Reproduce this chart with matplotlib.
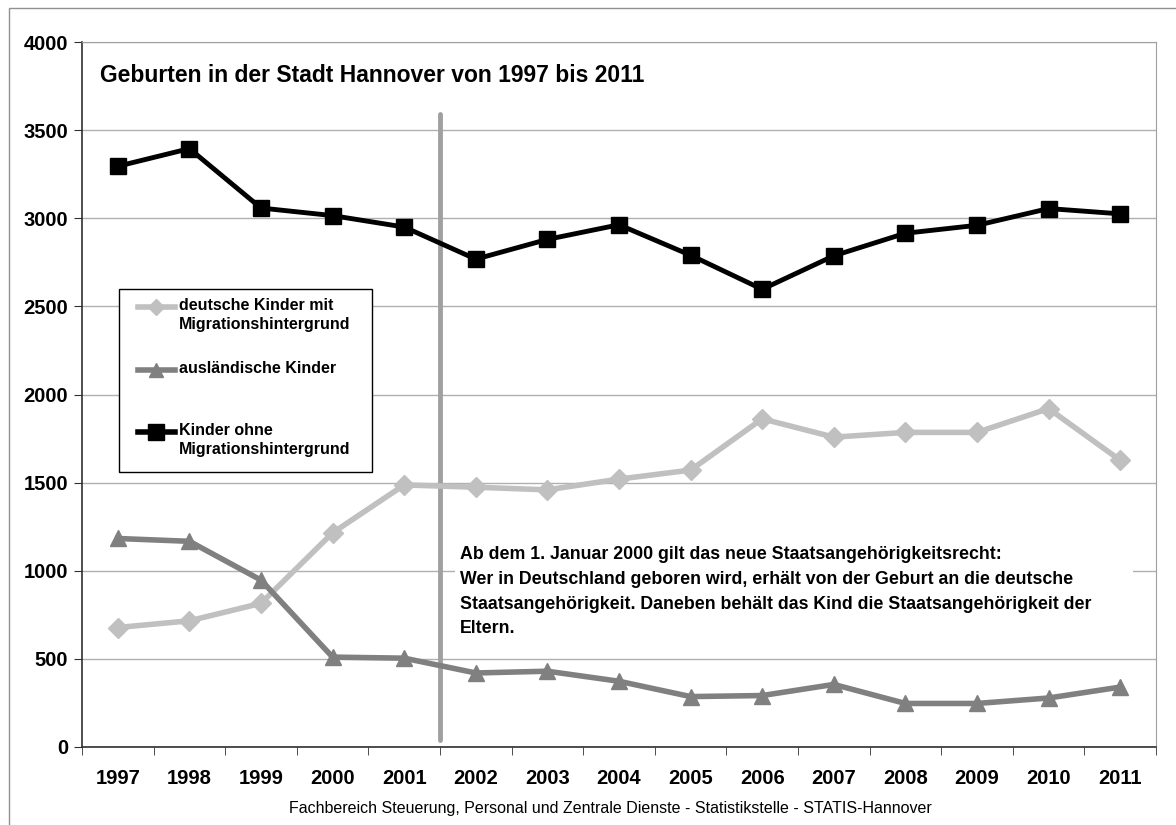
import numpy as np
import matplotlib
matplotlib.use("Agg")
import matplotlib.pyplot as plt
from matplotlib.lines import Line2D
from matplotlib.patches import Rectangle

plt.rcParams['font.family'] = ['Liberation Sans', 'DejaVu Sans']

# Daten
jahre = ['1997', '1998', '1999', '2000', '2001', '2002', '2003', '2004',
         '2005', '2006', '2007', '2008', '2009', '2010', '2011']
ohne_mig = [3295, 3395, 3058, 3015, 2950, 2768, 2880, 2963, 2790, 2597,
            2787, 2915, 2960, 3055, 3025]
deutsch_mig = [678, 716, 815, 1215, 1487, 1474, 1459, 1520, 1571, 1862,
               1758, 1785, 1785, 1920, 1627]
auslaendisch = [1183, 1167, 947, 510, 504, 420, 430, 373, 286, 292,
                355, 247, 247, 278, 340]

labels = ['deutsche Kinder mit\nMigrationshintergrund',
          'ausländische Kinder',
          'Kinder ohne\nMigrationshintergrund']

W, H = 1176, 825
fig = plt.figure(figsize=(W / 100, H / 100), dpi=100)
ax = fig.add_axes([82 / W, 1 - 747 / H, (1156 - 82) / W, (747 - 42) / H])

x = np.arange(len(jahre))

ax.plot(x, deutsch_mig, color='#c0c0c0', lw=4, marker='D', ms=10,
        mec='#c0c0c0', zorder=3)
ax.plot(x, auslaendisch, color='#808080', lw=4, marker='^', ms=12,
        mec='#808080', zorder=3)
ax.plot(x, ohne_mig, color='black', lw=3.5, marker='s', ms=11,
        mec='black', zorder=4)

# Stichtag-Linie zwischen 2001 und 2002
ax.plot([4.5, 4.5], [40, 3590], color='#a0a0a0', lw=3.5,
        solid_capstyle='round', zorder=2)

ax.set_xlim(-0.5, len(jahre) - 0.5)
ax.set_ylim(0, 4000)
ax.set_yticks(np.arange(0, 4001, 500))
ax.set_xticks(x)
ax.set_xticklabels(jahre)
ax.set_xticks(np.arange(-0.5, len(jahre)), minor=True)
ax.tick_params(axis='x', which='major', length=0, pad=16)
ax.tick_params(axis='x', which='minor', length=6, direction='out',
               color='#303030')
ax.tick_params(axis='y', length=6, direction='out', pad=4, color='#303030')
for lab in ax.get_xticklabels() + ax.get_yticklabels():
    lab.set_fontsize(14.5)
    lab.set_fontweight('bold')

ax.grid(axis='y', color='#b0b0b0', lw=1)
ax.set_axisbelow(True)
for s in ['top', 'right']:
    ax.spines[s].set_color('#a0a0a0')
for s in ['left', 'bottom']:
    ax.spines[s].set_color('#303030')
    ax.spines[s].set_linewidth(1.2)

fig.text(100 / W, 1 - 75 / H, 'Geburten in der Stadt Hannover von 1997 bis 2011',
         fontsize=16.5, fontweight='bold', va='center', ha='left')

# Hinweistext mit weissem Hintergrund
fig.add_artist(Rectangle((455 / W, 1 - 648 / H), (1133 - 455) / W, 108 / H,
                         transform=fig.transFigure, facecolor='white',
                         edgecolor='none', zorder=5))
hinweis = ('Ab dem 1. Januar 2000 gilt das neue Staatsangehörigkeitsrecht:\n'
           'Wer in Deutschland geboren wird, erhält von der Geburt an die deutsche\n'
           'Staatsangehörigkeit. Daneben behält das Kind die Staatsangehörigkeit der\n'
           'Eltern.')
fig.text(460 / W, 1 - 546 / H, hinweis, fontsize=12.8, fontweight='bold',
         va='top', ha='left', linespacing=1.6, zorder=6)

# Legende von Hand (Marker auf Hoehe der ersten Textzeile)
fig.add_artist(Rectangle((119 / W, 1 - 472 / H), (372 - 119) / W, (472 - 289) / H,
                         transform=fig.transFigure, facecolor='white',
                         edgecolor='black', lw=1, zorder=5))
leg_style = [('#c0c0c0', 'D', 8), ('#808080', '^', 10), ('black', 's', 11)]
leg_y = [307, 370, 432]
for (c, m, ms), yy, lab in zip(leg_style, leg_y, labels):
    fig.add_artist(Line2D([138 / W, 156 / W, 175 / W], [1 - yy / H] * 3,
                          transform=fig.transFigure, color=c, lw=4,
                          marker=m, ms=ms, mec=c, markevery=[1], zorder=6))
    fig.text(179 / W, 1 - (yy - 9) / H, lab, fontsize=11.5, fontweight='bold',
             va='top', ha='left', linespacing=1.3, zorder=7)

fig.text(610 / W, 1 - 808 / H,
         'Fachbereich Steuerung, Personal und Zentrale Dienste - Statistikstelle - STATIS-Hannover',
         fontsize=11.5, ha='center', va='center')

# Rahmen um die Grafik
fig.add_artist(Rectangle((9 / W, -0.1), 1.2, 1 - 8 / H + 0.1,
                         transform=fig.transFigure, facecolor='none',
                         edgecolor='#909090', lw=1))

fig.savefig('out.png', dpi=100)
